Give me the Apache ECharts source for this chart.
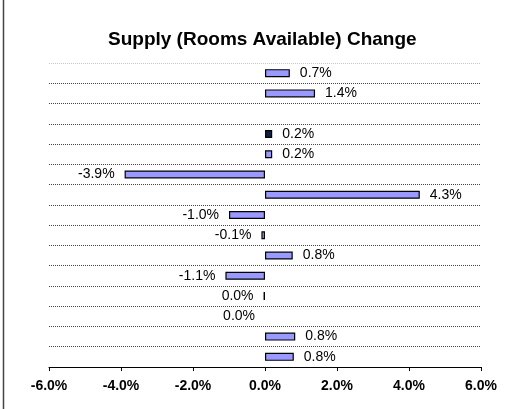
<!DOCTYPE html>
<html>
<head>
<meta charset="utf-8">
<script src="https://cdn.jsdelivr.net/npm/echarts@6/dist/echarts.min.js"></script>
<style>
  html, body { margin: 0; padding: 0; background: #fff; }
  #chart { width: 529px; height: 409px; }
</style>
</head>
<body>
<div id="chart"></div>
<script>
// rows top to bottom, the chart has no row labels
const rows = ['Row 1', 'Row 2', 'Row 3', 'Row 4', 'Row 5', 'Row 6', 'Row 7', 'Row 8',
  'Row 9', 'Row 10', 'Row 11', 'Row 12', 'Row 13', 'Row 14', 'Row 15']
// percent change, null = empty row
const supplyChange = [0.69, 1.39, null, 0.2, 0.2, -3.9, 4.3, -1.0, -0.1, 0.77, -1.1, -0.04, 0, 0.84, 0.8]
// the one dark bar
const highlightRow = 'Row 4'
const xTicks = [-6, -4, -2, 0, 2, 4, 6]

const fmt = v => (Math.abs(v) < 0.05 ? 0 : v).toFixed(1) + '%'

const barData = supplyChange.map((v, i) => {
  if (v === null) return { value: null, label: { show: false } }
  return {
    value: v,
    itemStyle: {
      color: rows[i] === highlightRow ? '#0e2240' : '#9999ff',
      borderWidth: v === 0 ? 0 : 1.2
    },
    label: { position: v <= 0 ? 'left' : 'right' }
  }
})

const gridColors = rows.concat(['end']).map((r, i) => (i === 0 ? '#c8c8c8' : '#444'))

const myChart = echarts.init(document.getElementById('chart'))
const option = {
  animation: false,
  title: {
    text: 'Supply (Rooms Available) Change',
    left: 103,
    top: 25,
    textStyle: { fontFamily: 'Liberation Sans', fontSize: 19, fontWeight: 'bold', color: '#000' }
  },
  graphic: [
    {
      type: 'line',
      shape: { x1: 3.5, y1: 0, x2: 3.5, y2: 409 },
      style: { stroke: '#444', lineWidth: 1.5 }
    }
  ],
  grid: { left: 49, right: 48, top: 63, bottom: 42 },
  xAxis: {
    type: 'value',
    min: xTicks[0],
    max: xTicks[xTicks.length - 1],
    interval: 2,
    axisLine: { show: true, lineStyle: { color: '#000', width: 1 } },
    axisTick: { show: true, length: 4, lineStyle: { color: '#000' } },
    splitLine: { show: false },
    axisLabel: {
      margin: 12,
      formatter: v => v.toFixed(1) + '%',
      fontFamily: 'Liberation Sans',
      fontSize: 14,
      fontWeight: 'bold',
      color: '#000'
    }
  },
  yAxis: {
    type: 'category',
    data: rows,
    inverse: true,
    axisLine: { show: false },
    axisTick: { show: false },
    axisLabel: { show: false },
    splitLine: { show: true, lineStyle: { type: 'dotted', color: gridColors, width: 1 } }
  },
  series: [
    {
      type: 'bar',
      data: barData,
      barWidth: 8,
      itemStyle: { borderColor: '#000', borderWidth: 1.2 },
      label: {
        show: true,
        distance: 10,
        formatter: p => fmt(p.value),
        fontFamily: 'Liberation Sans',
        fontSize: 14,
        color: '#000'
      }
    }
  ]
}
option && myChart.setOption(option)
</script>
</body>
</html>
